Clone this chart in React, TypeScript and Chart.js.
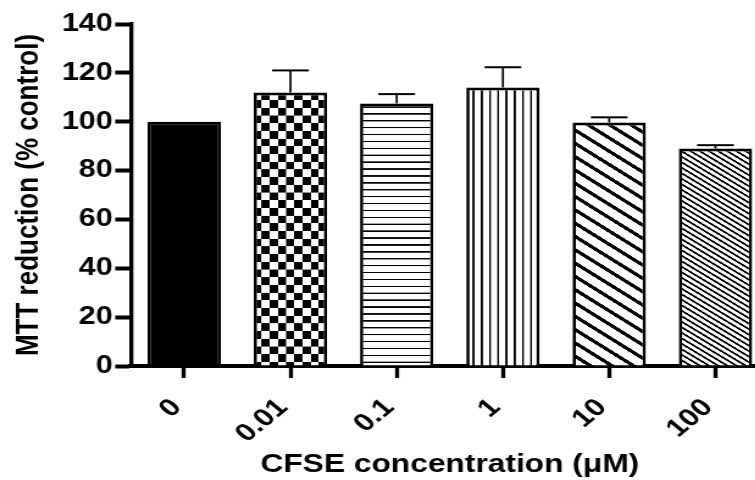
import React, { useEffect, useRef } from 'react';
import { Chart, registerables } from 'chart.js';

Chart.register(...registerables);

// ---- data ----
const categories = ['0', '0.01', '0.1', '1', '10', '100'];
const mttValues = [100, 112, 107.5, 114, 99.7, 89];
const semValues = [0, 9, 3.8, 8.3, 2.1, 1.4];
const yMin = 0;
const yMax = 140;
const yStep = 20;
const xTitle = 'CFSE concentration (\u03bcM)';
const yTitle = 'MTT reduction (% control)';

// horizontal stretch of the original figure
const K = 1.22;
const INNER_W = 630;
const INNER_H = 480;

const FONT = '"Liberation Sans", Arial, Helvetica, sans-serif';

function makePattern(ctx: CanvasRenderingContext2D, w: number, h: number, draw: (g: CanvasRenderingContext2D, w: number, h: number) => void) {
  const S = 4;
  const c = document.createElement('canvas');
  c.width = Math.round(w * S);
  c.height = Math.round(h * S);
  const g = c.getContext('2d') as CanvasRenderingContext2D;
  g.scale(c.width / w, c.height / h);
  g.fillStyle = '#fff';
  g.fillRect(0, 0, w, h);
  g.fillStyle = '#000';
  g.strokeStyle = '#000';
  draw(g, w, h);
  const p = ctx.createPattern(c, 'repeat') as CanvasPattern;
  p.setTransform(new DOMMatrix().scale(w / c.width, h / c.height));
  return p;
}

function diag(lw: number) {
  return (g: CanvasRenderingContext2D, w: number, h: number) => {
    g.lineWidth = lw;
    for (let k = -2; k <= 2; k++) {
      g.beginPath();
      g.moveTo(k * w - w, -h);
      g.lineTo(k * w + 2 * w, 2 * h);
      g.stroke();
    }
  };
}

const errorBars = {
  id: 'errorBars',
  afterDatasetsDraw(chart: any) {
    const meta = chart.getDatasetMeta(0);
    const y = chart.scales.y;
    const ctx = chart.ctx as CanvasRenderingContext2D;
    ctx.save();
    ctx.strokeStyle = '#000';
    meta.data.forEach((bar: any, i: number) => {
      const e = semValues[i];
      if (!e) return;
      const v = mttValues[i];
      const yTop = y.getPixelForValue(v + e);
      const yBar = y.getPixelForValue(v);
      const half = bar.width / 4;
      ctx.lineWidth = 1.7;
      ctx.beginPath();
      ctx.moveTo(bar.x, yBar);
      ctx.lineTo(bar.x, yTop);
      ctx.stroke();
      ctx.lineWidth = 2;
      ctx.beginPath();
      ctx.moveTo(bar.x - half, yTop);
      ctx.lineTo(bar.x + half, yTop);
      ctx.stroke();
    });
    ctx.restore();
  },
};

export default function App() {
  const ref = useRef<HTMLCanvasElement | null>(null);

  useEffect(() => {
    const canvas = ref.current;
    if (!canvas) return;
    const ctx = canvas.getContext('2d') as CanvasRenderingContext2D;

    const checker = makePattern(ctx, 13.4, 15.4, (g, w, h) => {
      g.fillRect(0, 0, w / 2, h / 2);
      g.fillRect(w / 2, h / 2, w / 2, h / 2);
    });
    const hLines = makePattern(ctx, 4, 6.9, (g, w, h) => {
      g.fillRect(0, h / 2 - 0.7, w, 1.4);
    });
    const vLines = makePattern(ctx, 6.75, 4, (g, w, h) => {
      g.fillRect(w / 2 - 0.8, 0, 1.6, h);
    });
    const wideDiag = makePattern(ctx, 17.6, 13.3, diag(3.2));
    const denseDiag = makePattern(ctx, 7.5, 5.5, diag(1.7));

    const chart = new Chart(canvas, {
      type: 'bar',
      data: {
        labels: categories,
        datasets: [
          {
            data: mttValues,
            backgroundColor: ['#000', checker, hLines, vLines, wideDiag, denseDiag] as any,
            borderColor: '#000',
            borderWidth: { top: 3, left: 2.7, right: 2.7, bottom: 0 } as any,
            borderSkipped: 'start',
            barPercentage: 0.69,
            categoryPercentage: 1.0,
          },
        ],
      },
      options: {
        animation: false,
        responsive: false,
        devicePixelRatio: 1,
        layout: { padding: { top: 24, left: 0, right: 0, bottom: 0 } },
        plugins: {
          legend: { display: false },
          tooltip: { enabled: false },
        },
        scales: {
          x: {
            z: 1,
            grid: {
              display: true,
              drawOnChartArea: false,
              drawTicks: true,
              offset: false,
              tickLength: 12,
              tickWidth: 3.3,
              tickColor: '#000',
            },
            border: { display: true, color: '#000', width: 4 },
            ticks: {
              color: '#000',
              font: { family: FONT, size: 25, weight: 'bold' },
              minRotation: 45,
              maxRotation: 45,
              autoSkip: false,
              padding: 15,
              labelOffset: -6,
            },
            title: {
              display: true,
              text: xTitle,
              color: '#000',
              font: { family: FONT, size: 26, weight: 'bold' },
              padding: { top: 0, bottom: 0 },
            },
            afterFit: (scale: any) => {
              scale.height = 114;
            },
          },
          y: {
            z: 1,
            min: yMin,
            max: yMax,
            grid: {
              display: true,
              drawOnChartArea: false,
              drawTicks: true,
              tickLength: 13,
              tickWidth: 4,
              tickColor: '#000',
            },
            border: { display: true, color: '#000', width: 3.3 },
            ticks: {
              stepSize: yStep,
              color: '#000',
              font: { family: FONT, size: 25, weight: 'bold' },
              padding: 2,
            },
            title: {
              display: true,
              text: yTitle,
              color: '#000',
              font: { family: FONT, size: 26, weight: 'bold' },
              padding: { top: 8, bottom: 0 },
            },
            afterFit: (scale: any) => {
              scale.width = 107.4;
            },
          },
        },
      },
      plugins: [errorBars],
    });

    return () => chart.destroy();
  }, []);

  return (
    <div style={{ position: 'absolute', left: 0, top: 0, width: 755, height: 480, overflow: 'hidden', background: '#fff' }}>
      <div style={{ width: INNER_W, height: INNER_H, transform: `scaleX(${K})`, transformOrigin: '0 0' }}>
        <canvas ref={ref} width={INNER_W} height={INNER_H} />
      </div>
    </div>
  );
}
